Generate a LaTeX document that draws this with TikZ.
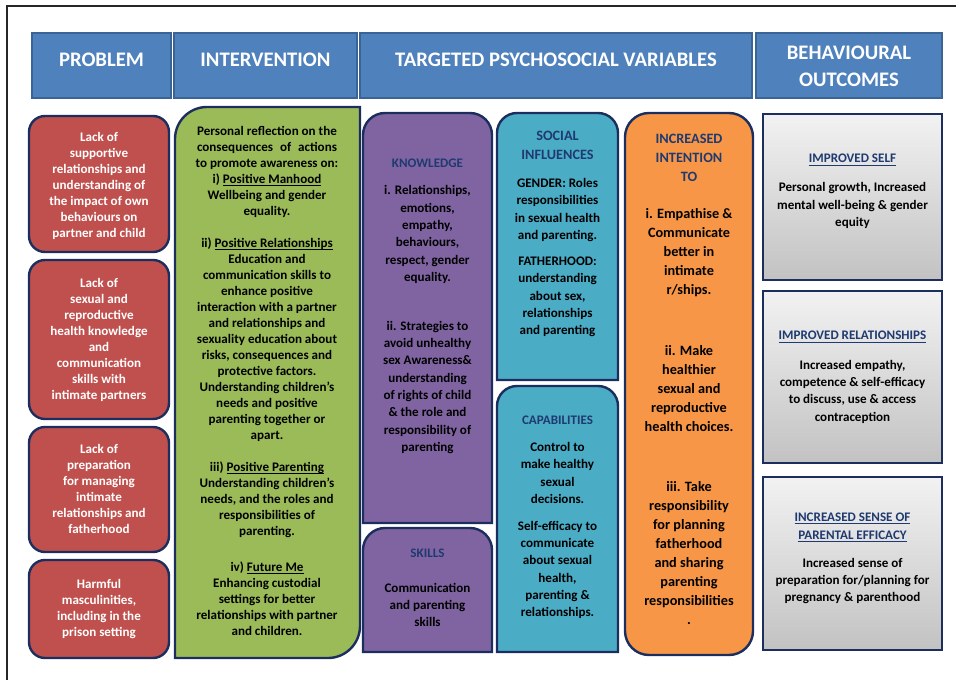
\documentclass[tikz,border=0pt]{standalone}
\usepackage{fontspec}
\setmainfont{Carlito}
\definecolor{navy}{HTML}{1C2E5E}
\definecolor{ttl}{HTML}{1F3A70}
\definecolor{hdrblue}{HTML}{4F81BD}
\definecolor{hdredge}{HTML}{3A6496}
\definecolor{redf}{HTML}{C0504D}
\definecolor{greenf}{HTML}{9BBB59}
\definecolor{purplef}{HTML}{8064A2}
\definecolor{tealf}{HTML}{4BACC6}
\definecolor{orangef}{HTML}{F79646}
\definecolor{greytop}{HTML}{F2F2F2}
\definecolor{greybot}{HTML}{C2C2C2}
\newcommand{\ftBody}{\fontsize{9.8}{12}\selectfont\bfseries}
\newcommand{\ftMid}{\fontsize{9.8}{13}\selectfont\bfseries}
\newcommand{\ftBig}{\fontsize{10.7}{14.25}\selectfont\bfseries}
\newcommand{\ftHdr}{\fontsize{15.5}{20.25}\selectfont\bfseries}
\newcommand{\ulTxt}[1]{\underline{\smash{#1}}\vphantom{#1}}
\newcommand{\topRoundBox}[6]{%
  \path[#1] (#2,#5) -- (#2,#3+#6) arc(180:270:#6) -- (#4-#6,#3) arc(270:360:#6) -- (#4,#5) -- cycle;}
\tikzset{
  hdrbox/.style={draw=hdredge, fill=hdrblue, line width=1.1pt},
  hdrtxt/.style={text=white, font=\ftHdr, align=center, inner sep=0},
  edge/.style={draw=navy, line width=1.8pt},
  redtxt/.style={text=white, font=\ftBody, align=center, inner sep=0},
  btxt/.style={text=black, font=\ftBody, align=center, inner sep=0},
  mtxt/.style={text=black, font=\ftMid, align=center, inner sep=0},
  otxt/.style={text=black, font=\ftBig, align=center, inner sep=0},
  ttltxt/.style={text=ttl, font=\ftMid, align=center, inner sep=0},
  bigttl/.style={text=ttl, font=\ftBig, align=center, inner sep=0},
  greybox/.style={edge, top color=greytop, bottom color=greybot}
}
\begin{document}
\begin{tikzpicture}[x=0.75pt, y=-0.75pt]
\useasboundingbox (0,0) rectangle (956,680);
% frame
\draw[line width=2pt, black!85] (7,680) -- (7,6) -- (956,6);
% headers
\path[hdrbox] (32,33) rectangle (171,98);
\path[hdrbox] (174,33) rectangle (357,98);
\path[hdrbox] (360,33) rectangle (752,98);
\path[hdrbox] (756,33) rectangle (942,98);
\node[hdrtxt] (hProblem) at (101.5,60) {PROBLEM};
\node[hdrtxt] (hInterv) at (265.5,60) {INTERVENTION};
\node[hdrtxt] (hTarget) at (556,60) {TARGETED PSYCHOSOCIAL VARIABLES};
\node[hdrtxt] (hOutcome) at (849,66.5) {BEHAVIOURAL\\OUTCOMES};
% red problem boxes
\path[edge, fill=redf, rounded corners=12pt] (29,116) rectangle (169,252);
\path[edge, fill=redf, rounded corners=12pt] (29,260) rectangle (169,419);
\path[edge, fill=redf, rounded corners=12pt] (29,427) rectangle (169,552);
\path[edge, fill=redf, rounded corners=12pt] (29,560) rectangle (169,658);
\node[redtxt] (p1) at (99,185.5) {Lack of\\ supportive\\ relationships and\\ understanding of\\ the impact of own\\ behaviours on\\ partner and child};
\node[redtxt] (p2) at (99,339.5) {Lack of\\ sexual and\\ reproductive\\ health knowledge\\ and\\ communication\\ skills with\\ intimate partners};
\node[redtxt] (p3) at (99,489) {Lack of\\ preparation\\ for managing\\ intimate\\ relationships and\\ fatherhood};
\node[redtxt] (p4) at (99,609) {Harmful\\ masculinities,\\ including in the\\ prison setting};
% green intervention box
\path[edge, fill=greenf] (175,658) -- (175,107+32) arc(180:270:32) -- (360,107) -- (360,658-32) arc(0:90:32) -- cycle;
\node[btxt] (i1) at (267,171.5) {Personal reflection on the\\ \makebox[105pt][s]{consequences of actions}\\ to promote awareness on:\\ i) \ulTxt{Positive Manhood}\\ Wellbeing and gender\\ equality.};
\node[btxt] (i2) at (267,339.5) {ii) \ulTxt{Positive Relationships}\\ Education and\\ communication skills to\\ enhance positive\\ interaction with a partner\\ and relationships and\\ sexuality education about\\ risks, consequences and\\ protective factors.\\ Understanding children’s\\ needs and positive\\ parenting together or\\ apart.};
\node[btxt] (i3) at (267,500) {iii) \ulTxt{Positive Parenting}\\ Understanding children’s\\ needs, and the roles and\\ responsibilities of\\ parenting.};
\node[btxt] (i4) at (267,599) {iv) \ulTxt{Future Me}\\ Enhancing custodial\\ settings for better\\ relationships with partner\\ and children.};
% purple boxes
\topRoundBox{edge, fill=purplef}{363}{113}{492}{523}{22}
\topRoundBox{edge, fill=purplef}{363}{528}{492}{652}{22}
\node[ttltxt] (kT) at (427.5,163) {KNOWLEDGE};
\node[mtxt] (k1) at (427.5,234.5) {i. Relationships,\\ emotions,\\ empathy,\\ behaviours,\\ respect, gender\\ equality.};
\node[mtxt] (k2) at (427.5,387.5) {ii. Strategies to\\ avoid unhealthy\\ sex Awareness\&\\ understanding\\ of rights of child\\ \& the role and\\ responsibility of\\ parenting};
\node[ttltxt] (sT) at (427.5,553) {SKILLS};
\node[mtxt] (s1) at (427.5,605) {Communication\\ and parenting\\ skills};
% teal boxes
\topRoundBox{edge, fill=tealf}{497}{113}{618}{380}{20}
\topRoundBox{edge, fill=tealf}{497}{386}{618}{652}{20}
\node[bigttl] (sIT) at (557.5,145.5) {SOCIAL\\ INFLUENCES};
\node[mtxt] (sI1) at (557.5,210) {GENDER: Roles\\ responsibilities\\ in sexual health\\ and parenting.};
\node[mtxt] (sI2) at (557.5,297) {FATHERHOOD:\\ understanding\\ about sex,\\ relationships\\ and parenting};
\node[ttltxt] (cT) at (557.5,420) {CAPABILITIES};
\node[mtxt] (c1) at (557.5,473) {Control to\\ make healthy\\ sexual\\ decisions.};
\node[mtxt] (c2) at (557.5,570) {Self-efficacy to\\ communicate\\ about sexual\\ health,\\ parenting \&\\ relationships.};
% orange box
\path[edge, fill=orangef, rounded corners=18pt] (625,113) rectangle (753,655);
\node[bigttl] (oT) at (689,158) {INCREASED\\ INTENTION\\ TO};
\node[otxt] (o1) at (689,253) {i. Empathise \&\\ Communicate\\ better in\\ intimate\\ r/ships.};
\node[otxt] (o2) at (689,389) {ii. Make\\ healthier\\ sexual and\\ reproductive\\ health choices.};
\node[otxt] (o3) at (689,553) {iii. Take\\ responsibility\\ for planning\\ fatherhood\\ and sharing\\ parenting\\ responsibilities\\ .};
% grey outcome boxes
\path[greybox] (763,114) rectangle (942,280);
\path[greybox] (763,291) rectangle (942,463);
\path[greybox] (763,477) rectangle (942,650);
\node[ttltxt] (b1T) at (852.5,160) {\ulTxt{IMPROVED SELF}};
\node[mtxt] (b1) at (852.5,205.5) {Personal growth, Increased\\ mental well-being \& gender\\ equity};
\node[ttltxt] (b2T) at (852.5,337) {\ulTxt{IMPROVED RELATIONSHIPS}};
\node[mtxt] (b2) at (852.5,391.5) {Increased empathy,\\ competence \& self-efficacy\\ to discuss, use \& access\\ contraception};
\node[ttltxt] (b3T) at (852.5,527.5) {\ulTxt{INCREASED SENSE OF}\\ \ulTxt{PARENTAL EFFICACY}};
\node[mtxt] (b3) at (852.5,581) {Increased sense of\\ preparation for/planning for\\ pregnancy \& parenthood};
\end{tikzpicture}
\end{document}
